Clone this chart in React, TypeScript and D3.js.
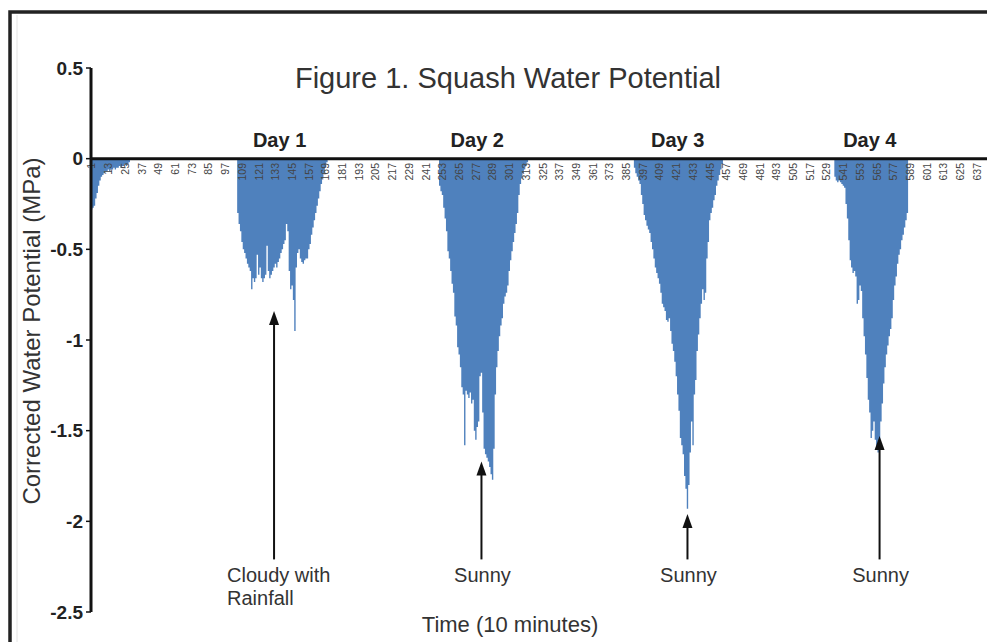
import React from 'react';
import * as d3 from 'd3';

// ---- Data (Corrected Water Potential, MPa, per 10-minute interval) ----
const TOTAL_INTERVALS = 648;

const startValuesStart = 1;
const startValues = [-0.28, -0.27, -0.26, -0.22, -0.19, -0.15, -0.12, -0.10, -0.09, -0.08, -0.07, -0.07, -0.06, -0.07,
  -0.06, -0.06, -0.05, -0.06, -0.05, -0.05, -0.04, -0.05, -0.04, -0.04, -0.03, -0.04, -0.03, -0.02];

const day1Start = 106;
const day1Values = [-0.30, -0.36, -0.40, -0.46, -0.50, -0.52, -0.55, -0.58, -0.60, -0.62, -0.72, -0.66, -0.68, -0.66,
  -0.53, -0.64, -0.60, -0.66, -0.68, -0.66, -0.64, -0.48, -0.62, -0.66, -0.64, -0.62, -0.60, -0.58, -0.60, -0.57,
  -0.55, -0.52, -0.50, -0.47, -0.45, -0.36, -0.40, -0.62, -0.72, -0.70, -0.78, -0.95, -0.60, -0.52, -0.50, -0.55,
  -0.57, -0.58, -0.56, -0.55, -0.55, -0.50, -0.47, -0.42, -0.38, -0.34, -0.30, -0.26, -0.22, -0.18, -0.14, -0.11,
  -0.08, -0.05, -0.02];

const day2Start = 251;
const day2Values = [-0.15, -0.18, -0.20, -0.27, -0.33, -0.40, -0.51, -0.55, -0.62, -0.69, -0.74, -0.87, -0.92, -1.04,
  -1.08, -1.15, -1.26, -1.30, -1.58, -1.28, -1.30, -1.32, -1.29, -1.35, -1.33, -1.50, -1.55, -1.48, -1.45, -1.20,
  -1.18, -1.40, -1.60, -1.63, -1.65, -1.67, -1.70, -1.74, -1.77, -1.60, -1.30, -1.15, -1.06, -0.98, -0.92, -0.88,
  -0.80, -0.76, -0.74, -0.70, -0.62, -0.56, -0.51, -0.46, -0.41, -0.36, -0.30, -0.20, -0.14, -0.11, -0.08, -0.06,
  -0.04, -0.02];

const day3Start = 391;
const day3Values = [-0.05, -0.08, -0.10, -0.12, -0.14, -0.20, -0.25, -0.31, -0.34, -0.37, -0.39, -0.41, -0.46, -0.50,
  -0.55, -0.60, -0.63, -0.66, -0.69, -0.74, -0.80, -0.82, -0.84, -0.89, -0.90, -0.88, -0.95, -1.02, -1.06, -1.12,
  -1.20, -1.30, -1.39, -1.54, -1.58, -1.63, -1.75, -1.82, -1.93, -1.80, -1.62, -1.45, -1.58, -1.30, -1.22, -1.06,
  -0.97, -0.88, -0.80, -0.72, -0.78, -0.74, -0.55, -0.46, -0.34, -0.30, -0.27, -0.23, -0.20, -0.15, -0.12, -0.09,
  -0.06, -0.03];

const day4Start = 535;
const day4Values = [-0.10, -0.12, -0.13, -0.12, -0.13, -0.14, -0.15, -0.16, -0.25, -0.33, -0.45, -0.56, -0.60, -0.63,
  -0.62, -0.65, -0.80, -0.78, -0.70, -0.73, -0.88, -0.98, -1.08, -1.21, -1.33, -1.40, -1.54, -1.50, -1.45, -1.55,
  -1.60, -1.62, -1.55, -1.45, -1.35, -1.24, -1.15, -1.08, -1.03, -0.98, -0.94, -0.88, -0.78, -0.70, -0.65, -0.58,
  -0.53, -0.50, -0.45, -0.42, -0.38, -0.34, -0.30];

const segments: [number, number[]][] = [
  [startValuesStart, startValues],
  [day1Start, day1Values],
  [day2Start, day2Values],
  [day3Start, day3Values],
  [day4Start, day4Values],
];

const yTicks = [0.5, 0, -0.5, -1, -1.5, -2, -2.5];
const yTickLabels = ['0.5', '0', '-0.5', '-1', '-1.5', '-2', '-2.5'];

const dayLabels = ['Day 1', 'Day 2', 'Day 3', 'Day 4'];
const dayLabelIndex = [136, 278, 422, 560];

const annotationTexts = [['Cloudy with', 'Rainfall'], ['Sunny'], ['Sunny'], ['Sunny']];
const annotationIndex = [132, 281, 429, 567];
const annotationTipValue = [-0.84, -1.67, -1.96, -1.53];
const annotationBaseValue = -2.21;

const title = 'Figure 1. Squash Water Potential';
const yTitle = 'Corrected Water Potential (MPa)';
const xTitle = 'Time (10 minutes)';

// build full series
const categories: number[] = [];
const values: number[] = [];
for (let i = 1; i <= TOTAL_INTERVALS; i++) {
  categories.push(i);
  values.push(0);
}
segments.forEach(([start, arr]) => {
  arr.forEach((v, k) => {
    values[start - 1 + k] = v;
  });
});

const W = 987;
const H = 642;
const FONT = '"Liberation Sans", Arial, Helvetica, sans-serif';
const BAR = '#4F81BD';

export default function App() {
  const plotLeft = 91;
  const step = 1.392;
  const x = d3
    .scaleBand<number>()
    .domain(categories)
    .range([plotLeft, plotLeft + step * TOTAL_INTERVALS])
    .padding(0);
  const y = d3.scaleLinear().domain([-2.5, 0.5]).range([612, 68]);
  const bw = x.bandwidth();
  const y0 = y(0);
  const cx = (i: number) => (x(i) as number) + bw / 2;

  const xTickCats = categories.filter((c) => (c - 1) % 12 === 0);

  // all bars as one path (no seams between neighbouring bars)
  const barPath = d3.path();
  categories.forEach((c, k) => {
    const v = values[k];
    if (v === 0) return;
    barPath.rect(x(c) as number, y0, bw, y(v) - y0);
  });

  return (
    <svg
      width={W}
      height={H}
      viewBox={`0 0 ${W} ${H}`}
      style={{ position: 'absolute', left: 0, top: 0, background: '#fff' }}
      fontFamily={FONT}
    >
      <rect x={0} y={0} width={W} height={H} fill="#fff" />
      {/* outer frame */}
      <path d={`M10,${H + 10} V12 H${W + 10}`} fill="none" stroke="#222" strokeWidth={3.5} />
      <line x1={17} x2={17} y1={15} y2={H} stroke="#e4e4e4" strokeWidth={1} />

      {/* title */}
      <text x={508} y={88} textAnchor="middle" fontSize={29} fill="#333">
        {title}
      </text>

      {/* bars */}
      <path d={barPath.toString()} fill={BAR} />

      {/* x tick labels */}
      <g>
        {xTickCats.map((c) => (
          <text
            key={c}
            transform={`translate(${cx(c) + 3.8},163) rotate(-90)`}
            textAnchor="end"
            fontSize={10.5}
            fill="#444"
          >
            {c}
          </text>
        ))}
      </g>

      {/* zero line (category axis) */}
      <line x1={plotLeft} x2={W + 10} y1={y0} y2={y0} stroke="#111" strokeWidth={3} />

      {/* y axis */}
      <line x1={plotLeft} x2={plotLeft} y1={y(0.5)} y2={y(-2.5)} stroke="#111" strokeWidth={3} />
      {yTicks.map((t, k) => (
        <g key={t}>
          <line x1={plotLeft - 5} x2={plotLeft} y1={y(t)} y2={y(t)} stroke="#111" strokeWidth={1.5} />
          <text x={83} y={y(t) + 6.5} textAnchor="end" fontSize={19} fontWeight="bold" fill="#222">
            {yTickLabels[k]}
          </text>
        </g>
      ))}

      {/* y title */}
      <text
        transform={`translate(40,331) rotate(-90)`}
        textAnchor="middle"
        fontSize={24}
        fill="#333"
      >
        {yTitle}
      </text>

      {/* day labels */}
      {dayLabels.map((d, k) => (
        <text key={d} x={cx(dayLabelIndex[k])} y={147} textAnchor="middle" fontSize={20} fontWeight="bold" fill="#222">
          {d}
        </text>
      ))}

      {/* annotations */}
      {annotationTexts.map((lines, k) => {
        const ax = cx(annotationIndex[k]);
        const tip = y(annotationTipValue[k]);
        const base = y(annotationBaseValue);
        const left = k === 0;
        return (
          <g key={k}>
            <line x1={ax} x2={ax} y1={base} y2={tip + 10} stroke="#111" strokeWidth={2} />
            <path d={`M${ax},${tip} L${ax - 5},${tip + 14} L${ax + 5},${tip + 14} Z`} fill="#111" />
            {lines.map((ln, j) => (
              <text
                key={j}
                x={left ? 227 : ax + 1}
                y={582 + j * 23}
                textAnchor={left ? 'start' : 'middle'}
                fontSize={20}
                fill="#333"
              >
                {ln}
              </text>
            ))}
          </g>
        );
      })}

      {/* x title */}
      <text x={510} y={632} textAnchor="middle" fontSize={22} fill="#333">
        {xTitle}
      </text>
    </svg>
  );
}
